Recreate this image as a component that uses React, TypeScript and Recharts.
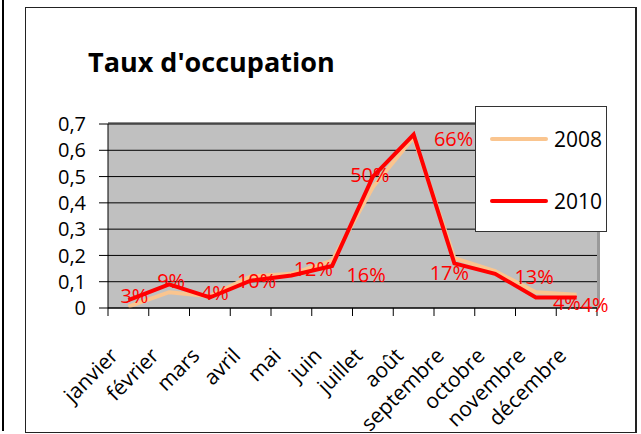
import React from 'react';
import { LineChart, Line, XAxis, YAxis, CartesianGrid, LabelList } from 'recharts';

const months = ['janvier', 'février', 'mars', 'avril', 'mai', 'juin', 'juillet', 'août', 'septembre', 'octobre', 'novembre', 'décembre'];
const taux2008 = [0.005, 0.06, 0.045, 0.12, 0.13, 0.18, 0.46, 0.65, 0.19, 0.14, 0.06, 0.05];
const taux2010 = [0.03, 0.09, 0.04, 0.104, 0.124, 0.16, 0.5, 0.66, 0.17, 0.13, 0.04, 0.04];
const yTicks = [0, 0.1, 0.2, 0.3, 0.4, 0.5, 0.6, 0.7];

// label nudges (Excel had them dragged around by hand)
const labelNudge: [number, number][] = [
  [6, -5], [2, -4], [5, -5], [6, 0], [22, -7], [34, 9],
  [-3, -2], [40, 4], [-5, 9], [39, 3], [31, 5], [18, 7],
];

const W = 641;
const H = 434;
const PLOT_LEFT = 108;
const PLOT_RIGHT = 597;
const PLOT_TOP = 124;
const PLOT_BOTTOM = 308;
const HALF_BAND = (PLOT_RIGHT - PLOT_LEFT) / months.length / 2;
const FONT = '"Open Sans", sans-serif';

const C2008 = '#FAC58F';
const C2010 = '#FF0000';

const data = months.map((m, i) => ({ month: m, a2008: taux2008[i], a2010: taux2010[i] }));

const MonthTick = (props: any) => {
  const { x, y, payload, index } = props;
  const last = index === months.length - 1;
  const ax = x - 9;
  const ay = y + 49;
  return (
    <g>
      <line x1={x - HALF_BAND} x2={x - HALF_BAND} y1={y} y2={y + 8} stroke="#000" />
      {last && <line x1={x + HALF_BAND} x2={x + HALF_BAND} y1={y} y2={y + 8} stroke="#000" />}
      <text
        x={ax}
        y={ay}
        textAnchor="end"
        fontSize={21}
        fontFamily={FONT}
        fill="#000"
        transform={`rotate(-45, ${ax}, ${ay})`}
      >
        {payload.value}
      </text>
    </g>
  );
};

const PctLabel = (props: any) => {
  const { x, y, value, index } = props;
  const [dx, dy] = labelNudge[index] || [0, 0];
  return (
    <text
      x={x + dx}
      y={y + dy}
      textAnchor="middle"
      dominantBaseline="central"
      fontSize={20}
      fontFamily={FONT}
      fill={C2010}
    >
      {`${Math.round(value * 100)}%`}
    </text>
  );
};

export default function App() {
  return (
    <div style={{ position: 'absolute', left: 0, top: 0, width: W, height: H, background: '#fff', fontFamily: FONT }}>
      <div style={{ position: 'absolute', left: 2, top: 0, width: 2, height: 431, background: '#000' }} />
      <div
        style={{
          position: 'absolute', left: 25, top: 7, width: 612, height: 426,
          border: '1px solid #222', borderRightWidth: 2, boxSizing: 'border-box',
        }}
      />
      <div
        style={{
          position: 'absolute', left: PLOT_LEFT, top: PLOT_TOP - 2, width: PLOT_RIGHT - PLOT_LEFT + 3,
          height: PLOT_BOTTOM - PLOT_TOP + 2, borderTop: '2px solid #8c8c8c', borderRight: '3px solid #9a9a9a',
          boxSizing: 'border-box',
        }}
      />
      <svg style={{ position: 'absolute', left: 0, top: 0 }} width={W} height={100}>
        <text x={88} y={72} fontSize={27} fontWeight="bold" fontFamily={FONT} fill="#000">
          Taux d'occupation
        </text>
      </svg>
      <div style={{ position: 'absolute', left: 0, top: 0 }}>
        <LineChart
          width={W}
          height={H}
          data={data}
          margin={{ top: PLOT_TOP, right: W - PLOT_RIGHT, bottom: 0, left: 0 }}
        >
          <CartesianGrid vertical={false} stroke="#000" fill="#C0C0C0" fillOpacity={1} />
          <XAxis
            dataKey="month"
            interval={0}
            height={H - PLOT_BOTTOM}
            padding={{ left: HALF_BAND, right: HALF_BAND }}
            tickLine={false}
            tickSize={0}
            tickMargin={0}
            axisLine={{ stroke: '#000' }}
            tick={<MonthTick />}
          />
          <YAxis
            width={PLOT_LEFT}
            domain={[0, 0.7]}
            ticks={yTicks}
            interval={0}
            tickSize={9}
            tickMargin={13}
            axisLine={{ stroke: '#000' }}
            tickLine={{ stroke: '#000' }}
            tick={{ fill: '#000', fontSize: 20, fontFamily: FONT }}
            tickFormatter={(v: number) => String(Number(v.toFixed(1))).replace('.', ',')}
          />
          <Line dataKey="a2008" stroke={C2008} strokeWidth={4} dot={false} isAnimationActive={false} />
          <Line dataKey="a2010" stroke={C2010} strokeWidth={4} dot={false} isAnimationActive={false}>
            <LabelList dataKey="a2010" content={<PctLabel />} />
          </Line>
        </LineChart>
      </div>
      <div
        style={{
          position: 'absolute', left: 475, top: 106, width: 132, height: 126, background: '#fff',
          border: '1px solid #333', boxSizing: 'border-box',
        }}
      >
        {[
          { name: '2008', color: C2008, top: 19 },
          { name: '2010', color: C2010, top: 81 },
        ].map((it) => (
          <div key={it.name} style={{ position: 'absolute', left: 14, top: it.top, display: 'flex', alignItems: 'center', height: 26 }}>
            <div style={{ width: 58, height: 4, borderRadius: 2, background: it.color }} />
            <span style={{ marginLeft: 6, fontSize: 21, lineHeight: '26px', color: '#000' }}>{it.name}</span>
          </div>
        ))}
      </div>
    </div>
  );
}
